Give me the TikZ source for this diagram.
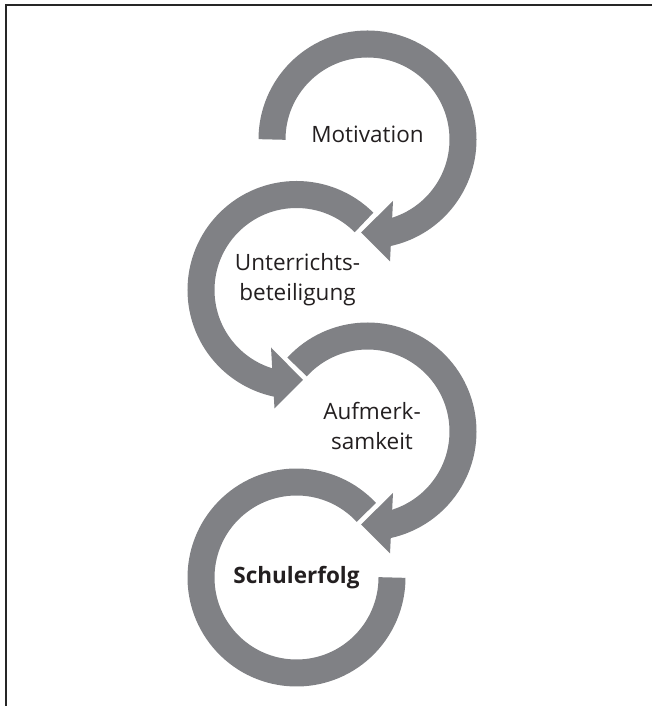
\documentclass[tikz,border=0pt]{standalone}
\usepackage{fontspec}
\setmainfont{Open Sans}
\definecolor{ringgray}{RGB}{128,129,133}
\definecolor{textdark}{RGB}{35,31,32}
\begin{document}
\begin{tikzpicture}[x=1pt,y=1pt,
  ring/.style={draw=ringgray, line width=27pt, line cap=butt},
  headfill/.style={fill=ringgray},
  stage/.style={font=\fontsize{22.5}{30}\selectfont, text=textdark, align=center, inner sep=0pt},
  edgeline/.style={draw=black!85, line width=1.3pt}]
  \useasboundingbox (0,0) rectangle (652,706);
  % open frame: top and left edges
  \coordinate (fbl) at (6,0);
  \coordinate (ftl) at (6,701);
  \coordinate (ftr) at (652,701);
  \draw[edgeline] (fbl) -- (ftl) -- (ftr);

  % ring centres
  \coordinate (c1) at (367.5,566.5);
  \coordinate (c2) at (296.5,416);
  \coordinate (c3) at (367.5,274.5);
  \coordinate (c4) at (296.5,128.5);

  % ring 1: clockwise from the left, arrow into ring 2
  \draw[ring] ([shift={(180:95.5)}]c1) arc[start angle=180, end angle=-79, radius=95.5];
  \fill[headfill] ([shift={(-6.5,-93)}]c1) -- ([shift={(25.5,-61.5)}]c1) -- ([shift={(22.5,-122)}]c1) -- cycle;

  % ring 2: counter-clockwise, arrow into ring 3
  \draw[ring] ([shift={(45:95.5)}]c2) arc[start angle=45, end angle=259, radius=95.5];
  \fill[headfill] ([shift={(6.5,-90)}]c2) -- ([shift={(-25.5,-57.5)}]c2) -- ([shift={(-22,-118.5)}]c2) -- cycle;

  % ring 3: clockwise, arrow into ring 4
  \draw[ring] ([shift={(137.5:95.5)}]c3) arc[start angle=137.5, end angle=-79, radius=95.5];
  \fill[headfill] ([shift={(-6.5,-93)}]c3) -- ([shift={(25.5,-61.5)}]c3) -- ([shift={(22.5,-122)}]c3) -- cycle;

  % ring 4: counter-clockwise, open end on the right
  \draw[ring] ([shift={(43:95.5)}]c4) arc[start angle=43, end angle=360, radius=95.5];

  % stage labels
  \node[stage] (motivation) at (367.5,571.5) {Motivation};
  \node[stage] (beteiligung) at (297.5,426) {Unterrichts-\\beteiligung};
  \node[stage] (aufmerksamkeit) at (372,280) {Aufmerk-\\samkeit};
  \node[stage, font=\fontsize{22.5}{30}\selectfont\bfseries] (schulerfolg) at (296.5,128) {Schulerfolg};
\end{tikzpicture}
\end{document}
